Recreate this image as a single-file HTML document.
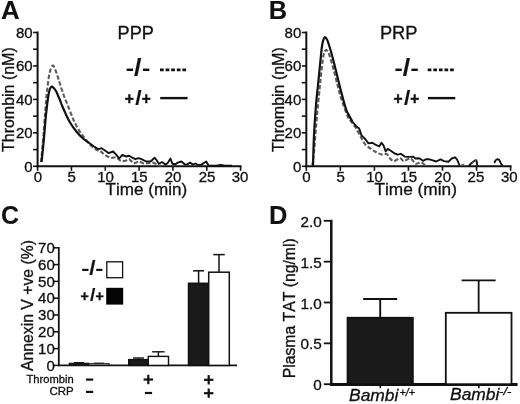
<!DOCTYPE html>
<html><head><meta charset="utf-8"><title>Figure</title>
<style>
html,body{margin:0;padding:0;background:#fff;}
body{width:520px;height:404px;overflow:hidden;}
svg{display:block;font-kerning:none;font-family:"Liberation Sans",sans-serif;fill:#111;}
text{stroke:#111;stroke-width:.32px;}
text[font-weight=bold]{stroke-width:.1px;}
</style></head><body>
<svg width="520" height="404" viewBox="0 0 520 404">
<rect width="520" height="404" fill="#fff"/>
<line x1="37.6" y1="31.5" x2="37.6" y2="167.3" stroke="#111" stroke-width="2"/>
<line x1="36.6" y1="166.3" x2="241.6" y2="166.3" stroke="#111" stroke-width="2"/>
<line x1="33.1" y1="166.3" x2="37.6" y2="166.3" stroke="#111" stroke-width="1.6"/>
<text x="32.6" y="171.6" font-size="15" text-anchor="end">0</text>
<line x1="33.1" y1="149.57500000000002" x2="37.6" y2="149.57500000000002" stroke="#111" stroke-width="1.6"/>
<line x1="33.1" y1="132.85000000000002" x2="37.6" y2="132.85000000000002" stroke="#111" stroke-width="1.6"/>
<text x="32.6" y="138.2" font-size="15" text-anchor="end">20</text>
<line x1="33.1" y1="116.125" x2="37.6" y2="116.125" stroke="#111" stroke-width="1.6"/>
<line x1="33.1" y1="99.4" x2="37.6" y2="99.4" stroke="#111" stroke-width="1.6"/>
<text x="32.6" y="104.7" font-size="15" text-anchor="end">40</text>
<line x1="33.1" y1="82.67500000000001" x2="37.6" y2="82.67500000000001" stroke="#111" stroke-width="1.6"/>
<line x1="33.1" y1="65.95" x2="37.6" y2="65.95" stroke="#111" stroke-width="1.6"/>
<text x="32.6" y="71.2" font-size="15" text-anchor="end">60</text>
<line x1="33.1" y1="49.224999999999994" x2="37.6" y2="49.224999999999994" stroke="#111" stroke-width="1.6"/>
<line x1="33.1" y1="32.5" x2="37.6" y2="32.5" stroke="#111" stroke-width="1.6"/>
<text x="32.6" y="37.8" font-size="15" text-anchor="end">80</text>
<line x1="37.6" y1="166.3" x2="37.6" y2="170.8" stroke="#111" stroke-width="1.6"/>
<text x="37.8" y="182.0" font-size="15" text-anchor="middle">0</text>
<line x1="71.43333333333334" y1="166.3" x2="71.43333333333334" y2="170.8" stroke="#111" stroke-width="1.6"/>
<text x="71.6" y="182.0" font-size="15" text-anchor="middle">5</text>
<line x1="105.26666666666668" y1="166.3" x2="105.26666666666668" y2="170.8" stroke="#111" stroke-width="1.6"/>
<text x="105.5" y="182.0" font-size="15" text-anchor="middle">10</text>
<line x1="139.1" y1="166.3" x2="139.1" y2="170.8" stroke="#111" stroke-width="1.6"/>
<text x="139.3" y="182.0" font-size="15" text-anchor="middle">15</text>
<line x1="172.93333333333334" y1="166.3" x2="172.93333333333334" y2="170.8" stroke="#111" stroke-width="1.6"/>
<text x="173.1" y="182.0" font-size="15" text-anchor="middle">20</text>
<line x1="206.76666666666665" y1="166.3" x2="206.76666666666665" y2="170.8" stroke="#111" stroke-width="1.6"/>
<text x="207.0" y="182.0" font-size="15" text-anchor="middle">25</text>
<line x1="240.6" y1="166.3" x2="240.6" y2="170.8" stroke="#111" stroke-width="1.6"/>
<text x="240.0" y="182.0" font-size="15" text-anchor="middle">30</text>
<text x="0.95" y="19.40" font-size="24.90" font-weight="bold" textLength="18.73" lengthAdjust="spacingAndGlyphs">A</text>
<text x="14.10" y="151.96" font-size="15.98" transform="rotate(-90 14.10 151.96)">Thrombin (nM)</text>
<text x="105.62" y="195.40" font-size="17.09">Time (min)</text>
<text x="117.61" y="39.00" font-size="18.11">PPP</text>
<line x1="306.3" y1="31.5" x2="306.3" y2="167.3" stroke="#111" stroke-width="2"/>
<line x1="305.3" y1="166.3" x2="511.6" y2="166.3" stroke="#111" stroke-width="2"/>
<line x1="301.8" y1="166.3" x2="306.3" y2="166.3" stroke="#111" stroke-width="1.6"/>
<text x="301.3" y="171.6" font-size="15" text-anchor="end">0</text>
<line x1="301.8" y1="149.57500000000002" x2="306.3" y2="149.57500000000002" stroke="#111" stroke-width="1.6"/>
<line x1="301.8" y1="132.85000000000002" x2="306.3" y2="132.85000000000002" stroke="#111" stroke-width="1.6"/>
<text x="301.3" y="138.2" font-size="15" text-anchor="end">20</text>
<line x1="301.8" y1="116.125" x2="306.3" y2="116.125" stroke="#111" stroke-width="1.6"/>
<line x1="301.8" y1="99.4" x2="306.3" y2="99.4" stroke="#111" stroke-width="1.6"/>
<text x="301.3" y="104.7" font-size="15" text-anchor="end">40</text>
<line x1="301.8" y1="82.67500000000001" x2="306.3" y2="82.67500000000001" stroke="#111" stroke-width="1.6"/>
<line x1="301.8" y1="65.95" x2="306.3" y2="65.95" stroke="#111" stroke-width="1.6"/>
<text x="301.3" y="71.2" font-size="15" text-anchor="end">60</text>
<line x1="301.8" y1="49.224999999999994" x2="306.3" y2="49.224999999999994" stroke="#111" stroke-width="1.6"/>
<line x1="301.8" y1="32.5" x2="306.3" y2="32.5" stroke="#111" stroke-width="1.6"/>
<text x="301.3" y="37.8" font-size="15" text-anchor="end">80</text>
<line x1="306.3" y1="166.3" x2="306.3" y2="170.8" stroke="#111" stroke-width="1.6"/>
<text x="306.5" y="182.0" font-size="15" text-anchor="middle">0</text>
<line x1="340.35" y1="166.3" x2="340.35" y2="170.8" stroke="#111" stroke-width="1.6"/>
<text x="340.6" y="182.0" font-size="15" text-anchor="middle">5</text>
<line x1="374.40000000000003" y1="166.3" x2="374.40000000000003" y2="170.8" stroke="#111" stroke-width="1.6"/>
<text x="374.6" y="182.0" font-size="15" text-anchor="middle">10</text>
<line x1="408.45000000000005" y1="166.3" x2="408.45000000000005" y2="170.8" stroke="#111" stroke-width="1.6"/>
<text x="408.7" y="182.0" font-size="15" text-anchor="middle">15</text>
<line x1="442.5" y1="166.3" x2="442.5" y2="170.8" stroke="#111" stroke-width="1.6"/>
<text x="442.7" y="182.0" font-size="15" text-anchor="middle">20</text>
<line x1="476.55" y1="166.3" x2="476.55" y2="170.8" stroke="#111" stroke-width="1.6"/>
<text x="475.9" y="182.0" font-size="15" text-anchor="middle">25</text>
<line x1="510.6" y1="166.3" x2="510.6" y2="170.8" stroke="#111" stroke-width="1.6"/>
<text x="509.3" y="182.0" font-size="15" text-anchor="middle">30</text>
<text x="268.80" y="19.40" font-size="24.90" font-weight="bold" textLength="18.35" lengthAdjust="spacingAndGlyphs">B</text>
<text x="283.60" y="151.96" font-size="15.98" transform="rotate(-90 283.60 151.96)">Thrombin (nM)</text>
<text x="374.41" y="195.40" font-size="17.30">Time (min)</text>
<text x="379.90" y="39.00" font-size="18.27">PRP</text>
<text font-weight="bold"><tspan x="125.73" y="74.70" font-size="20.00" textLength="8.26" lengthAdjust="spacingAndGlyphs">-</tspan><tspan x="134.04" y="75.50" font-size="23.90" textLength="7.42" lengthAdjust="spacingAndGlyphs">/</tspan><tspan x="141.93" y="74.70" font-size="20.00" textLength="8.26" lengthAdjust="spacingAndGlyphs">-</tspan></text>
<text font-weight="bold"><tspan x="124.85" y="104.05" font-size="17.20" textLength="9.08" lengthAdjust="spacingAndGlyphs" stroke="#111" stroke-width="0.5">+</tspan><tspan x="135.38" y="104.70" font-size="19.70" textLength="6.35" lengthAdjust="spacingAndGlyphs">/</tspan><tspan x="141.66" y="104.05" font-size="17.20" textLength="8.97" lengthAdjust="spacingAndGlyphs" stroke="#111" stroke-width="0.5">+</tspan></text>
<line x1="160" y1="69.9" x2="186.4" y2="69.9" stroke="#111" stroke-width="2.6" stroke-dasharray="3.7 1.9"/>
<line x1="160.2" y1="98.1" x2="187.6" y2="98.1" stroke="#111" stroke-width="2.4"/>
<text font-weight="bold"><tspan x="394.43" y="74.70" font-size="20.00" textLength="8.26" lengthAdjust="spacingAndGlyphs">-</tspan><tspan x="402.74" y="75.50" font-size="23.90" textLength="7.42" lengthAdjust="spacingAndGlyphs">/</tspan><tspan x="410.63" y="74.70" font-size="20.00" textLength="8.26" lengthAdjust="spacingAndGlyphs">-</tspan></text>
<text font-weight="bold"><tspan x="393.55" y="104.05" font-size="17.20" textLength="9.08" lengthAdjust="spacingAndGlyphs" stroke="#111" stroke-width="0.5">+</tspan><tspan x="404.08" y="104.70" font-size="19.70" textLength="6.35" lengthAdjust="spacingAndGlyphs">/</tspan><tspan x="410.36" y="104.05" font-size="17.20" textLength="8.97" lengthAdjust="spacingAndGlyphs" stroke="#111" stroke-width="0.5">+</tspan></text>
<line x1="427.7" y1="69.9" x2="454.1" y2="69.9" stroke="#111" stroke-width="2.6" stroke-dasharray="3.7 1.9"/>
<line x1="427.9" y1="98.1" x2="455.29999999999995" y2="98.1" stroke="#111" stroke-width="2.4"/>
<path d="M41.0,162.0C41.4,158.0 42.5,146.3 43.2,138.0C43.9,129.7 44.6,119.7 45.2,112.0C45.8,104.3 46.2,98.5 46.9,92.0C47.6,85.5 48.6,77.4 49.6,73.0C50.6,68.6 51.7,66.3 52.6,65.6C53.5,64.9 54.2,67.3 55.0,69.0C55.8,70.7 56.7,73.5 57.5,76.0C58.3,78.5 58.9,80.7 60.0,84.0C61.1,87.3 62.5,91.9 64.0,96.0C65.5,100.1 67.3,104.3 69.0,108.5C70.7,112.7 72.2,117.1 74.0,121.0C75.8,124.9 78.2,129.1 80.0,132.0C81.8,134.9 83.3,136.4 85.0,138.5C86.7,140.6 88.1,142.7 90.0,144.6C91.9,146.5 94.4,148.5 96.2,149.7C98.0,150.8 99.3,150.6 100.8,151.5C102.3,152.4 103.6,154.4 105.4,155.4C107.2,156.4 109.7,157.4 111.5,157.7C113.3,158.0 114.7,156.9 116.2,157.4C117.8,157.9 119.3,160.2 120.8,160.8C122.3,161.4 124.0,161.1 125.4,160.8C126.8,160.5 127.8,158.8 129.2,159.2C130.6,159.6 132.1,162.7 133.8,163.1C135.5,163.5 137.5,161.4 139.2,161.5C140.9,161.6 142.2,163.2 143.8,163.5C145.4,163.8 146.9,163.2 148.5,163.1C150.1,162.9 151.6,162.3 153.1,162.6C154.6,162.9 156.4,164.5 157.7,165.0C159.0,165.5 160.3,165.6 160.8,165.7" fill="none" stroke="#5c5c5c" stroke-width="2.1" stroke-linejoin="round" stroke-dasharray="4.4 2"/>
<path d="M41.6,162.0C42.0,158.0 43.3,145.8 44.0,138.0C44.7,130.2 45.3,121.7 46.0,115.0C46.7,108.3 47.4,102.2 48.0,98.0C48.6,93.8 49.1,91.4 49.7,89.5C50.3,87.6 50.9,86.8 51.6,86.6C52.3,86.3 53.1,87.3 53.8,88.0C54.5,88.7 55.3,89.8 56.0,91.0C56.7,92.2 57.3,94.0 58.0,95.5C58.7,97.0 59.3,98.3 60.0,100.0C60.7,101.7 61.0,103.1 62.0,105.5C63.0,107.9 64.7,111.7 66.0,114.5C67.3,117.3 68.3,119.7 70.0,122.5C71.7,125.3 74.2,128.8 76.4,131.5C78.6,134.2 80.7,136.5 83.0,138.5C85.3,140.5 88.8,142.7 90.0,143.5" fill="none" stroke="#111" stroke-width="2.2" stroke-linejoin="round"/>
<polyline points="90.0,143.5 94.6,146.9 98.5,149.2 101.5,148.2 105.4,150.8 108.5,153.1 113.1,151.5 116.2,154.6 119.2,158.5 122.3,154.9 126.2,156.5 129.2,155.8 132.3,157.7 135.4,159.2 138.5,158.2 141.5,159.2 146.2,161.5 150.8,161.2 154.6,157.7 156.5,160.0 158.9,163.8 162.0,162.0 165.4,164.6 167.7,163.0 170.5,158.5 172.3,163.8 175.4,164.2 177.7,162.6 181.5,161.5 184.6,164.2 186.9,164.6 190.0,162.6 193.0,164.6 195.4,163.5 198.5,165.0 201.5,164.6 203.8,163.0 206.2,161.5 208.5,165.4 216.0,165.6 220.8,165.0 225.0,165.6 232.0,165.7" fill="none" stroke="#111" stroke-width="1.9" stroke-linejoin="round" stroke-linecap="butt"/>
<path d="M312.3,166.0C312.6,163.3 313.6,156.8 314.2,150.0C314.8,143.2 315.5,132.8 316.2,125.0C316.9,117.2 317.5,109.8 318.2,103.0C318.9,96.2 319.5,90.0 320.1,84.0C320.7,78.0 321.3,71.8 321.9,67.0C322.5,62.2 323.0,57.8 323.6,55.0C324.2,52.2 325.1,50.5 325.8,50.0C326.5,49.5 327.3,50.8 328.0,52.0C328.7,53.2 329.0,53.8 330.0,57.0C331.0,60.2 332.7,66.0 334.0,71.0C335.3,76.0 336.7,82.0 338.0,87.0C339.3,92.0 340.3,96.0 342.0,101.0C343.7,106.0 346.3,113.3 348.0,117.0C349.7,120.7 350.9,121.1 352.3,123.0C353.7,124.9 354.8,126.2 356.2,128.5C357.6,130.8 359.3,134.3 360.8,137.0C362.3,139.7 363.6,142.6 365.4,144.6C367.2,146.6 369.7,147.9 371.5,149.2C373.3,150.5 374.4,151.4 376.2,152.3C378.0,153.2 380.5,154.3 382.3,154.6C384.1,154.9 385.6,153.5 386.9,154.2C388.2,154.8 388.9,157.3 390.0,158.5C391.1,159.7 392.5,161.1 393.8,161.2C395.1,161.3 396.5,159.6 397.7,159.2C398.9,158.8 399.8,158.2 400.8,158.5C401.8,158.8 402.7,161.1 403.8,161.2C404.9,161.3 406.5,159.6 407.7,159.2C408.9,158.8 409.8,158.1 410.8,158.5C411.8,158.9 412.9,160.9 413.8,161.8C414.7,162.7 415.0,163.7 416.2,163.8C417.4,163.9 419.4,162.2 420.8,162.3C422.2,162.4 423.6,164.1 424.6,164.6C425.6,165.1 426.6,165.1 427.0,165.2" fill="none" stroke="#5c5c5c" stroke-width="2.1" stroke-linejoin="round" stroke-dasharray="4.4 2"/>
<path d="M313.0,166.0C313.2,160.8 313.5,145.2 314.0,135.0C314.5,124.8 315.3,113.3 316.0,105.0C316.7,96.7 317.3,91.7 318.0,85.0C318.7,78.3 319.3,71.5 320.0,65.0C320.7,58.5 321.4,50.2 322.0,46.0C322.6,41.8 323.0,41.0 323.5,39.5C324.0,38.0 324.4,37.0 325.0,37.0C325.6,37.0 326.3,38.2 327.0,39.5C327.7,40.8 328.0,41.8 329.0,45.0C330.0,48.2 331.7,54.0 333.0,59.0C334.3,64.0 335.7,69.8 337.0,75.0C338.3,80.2 339.2,84.3 340.7,90.0C342.2,95.7 344.6,104.8 346.0,109.0C347.4,113.2 347.9,113.4 349.0,115.5C350.1,117.6 351.8,120.5 352.3,121.5" fill="none" stroke="#111" stroke-width="2.2" stroke-linejoin="round"/>
<polyline points="352.3,121.5 356.2,126.2 359.2,128.5 361.5,135.4 365.4,139.2 368.5,143.4 372.3,142.8 375.4,144.6 379.2,146.5 381.5,142.8 383.5,145.4 385.7,151.5 387.7,148.9 390.8,150.8 394.6,153.5 397.7,154.6 400.8,153.8 404.6,156.6 408.5,156.9 413.1,156.6 415.4,158.5 419.2,158.2 423.1,160.8 426.2,159.2 428.5,159.1 432.8,160.3 436.2,161.5 440.6,159.4 444.0,161.1 448.4,161.7 451.8,158.5 454.8,157.3 457.0,159.4 459.6,165.5" fill="none" stroke="#111" stroke-width="1.9" stroke-linejoin="round" stroke-linecap="butt"/>
<path d="M469.1,165.6C469.5,165.2 470.7,163.8 471.7,162.9C472.7,162.0 474.4,160.6 475.2,160.3C476.0,160.0 476.3,160.2 476.6,161.1C476.9,162.0 477.1,164.8 477.2,165.6" fill="none" stroke="#111" stroke-width="1.9" stroke-linejoin="round"/>
<path d="M494.2,162.9C494.6,162.4 495.5,160.3 496.3,159.8C497.1,159.3 498.2,159.2 499.0,159.8C499.8,160.5 500.5,162.7 501.1,163.7C501.7,164.7 502.3,165.3 502.5,165.6" fill="none" stroke="#111" stroke-width="1.9" stroke-linejoin="round"/>
<polyline points="472.0,163.5 476.3,159.5" fill="none" stroke="#5c5c5c" stroke-width="1.4" stroke-linejoin="round" stroke-linecap="butt" stroke-dasharray="2.5 1.5"/>
<polyline points="461.5,165.0 464.0,164.3" fill="none" stroke="#5c5c5c" stroke-width="1.4" stroke-linejoin="round" stroke-linecap="butt"/>
<text x="0.98" y="223.70" font-size="24.93" font-weight="bold">C</text>
<line x1="58.8" y1="247.0" x2="58.8" y2="366.2" stroke="#111" stroke-width="1.8"/>
<line x1="58.0" y1="365.4" x2="237" y2="365.4" stroke="#111" stroke-width="1.8"/>
<line x1="54.0" y1="365.4" x2="58.8" y2="365.4" stroke="#111" stroke-width="1.5"/>
<text x="54.8" y="370.6" font-size="15" text-anchor="end">0</text>
<line x1="54.0" y1="348.59999999999997" x2="58.8" y2="348.59999999999997" stroke="#111" stroke-width="1.5"/>
<text x="54.8" y="353.8" font-size="15" text-anchor="end">10</text>
<line x1="54.0" y1="331.8" x2="58.8" y2="331.8" stroke="#111" stroke-width="1.5"/>
<text x="54.8" y="337.0" font-size="15" text-anchor="end">20</text>
<line x1="54.0" y1="315.0" x2="58.8" y2="315.0" stroke="#111" stroke-width="1.5"/>
<text x="54.8" y="320.2" font-size="15" text-anchor="end">30</text>
<line x1="54.0" y1="298.2" x2="58.8" y2="298.2" stroke="#111" stroke-width="1.5"/>
<text x="54.8" y="303.4" font-size="15" text-anchor="end">40</text>
<line x1="54.0" y1="281.4" x2="58.8" y2="281.4" stroke="#111" stroke-width="1.5"/>
<text x="54.8" y="286.6" font-size="15" text-anchor="end">50</text>
<line x1="54.0" y1="264.6" x2="58.8" y2="264.6" stroke="#111" stroke-width="1.5"/>
<text x="54.8" y="269.8" font-size="15" text-anchor="end">60</text>
<line x1="54.0" y1="247.8" x2="58.8" y2="247.8" stroke="#111" stroke-width="1.5"/>
<text x="54.8" y="253.0" font-size="15" text-anchor="end">70</text>
<text x="33.10" y="371.03" font-size="15.77" transform="rotate(-90 33.10 371.03)">Annexin V +ve (%)</text>
<line x1="79.0" y1="362.6" x2="79.0" y2="363.3" stroke="#111" stroke-width="1.2"/>
<line x1="74.0" y1="362.6" x2="84.0" y2="362.6" stroke="#111" stroke-width="1.2"/>
<rect x="69.3" y="363.3" width="19.4" height="2.1" fill="#1a1a1a" stroke="#111" stroke-width="1.2"/>
<line x1="98.85" y1="363.2" x2="98.85" y2="363.8" stroke="#111" stroke-width="1.2"/>
<line x1="93.85" y1="363.2" x2="103.85" y2="363.2" stroke="#111" stroke-width="1.2"/>
<rect x="88.7" y="363.8" width="20.3" height="1.6" fill="#fff" stroke="#111" stroke-width="1.2"/>
<line x1="138.5" y1="358" x2="138.5" y2="359.6" stroke="#111" stroke-width="1.4"/>
<line x1="133.0" y1="358" x2="144.0" y2="358" stroke="#111" stroke-width="1.4"/>
<rect x="128.7" y="359.6" width="19.6" height="5.8" fill="#1a1a1a" stroke="#111" stroke-width="1.4"/>
<line x1="158.4" y1="351.8" x2="158.4" y2="356.4" stroke="#111" stroke-width="1.4"/>
<line x1="152.15" y1="351.8" x2="164.65" y2="351.8" stroke="#111" stroke-width="1.4"/>
<rect x="148.3" y="356.4" width="20.2" height="9.0" fill="#fff" stroke="#111" stroke-width="1.4"/>
<line x1="198.6" y1="270.8" x2="198.6" y2="283.3" stroke="#111" stroke-width="1.5"/>
<line x1="193.1" y1="270.8" x2="204.1" y2="270.8" stroke="#111" stroke-width="1.5"/>
<rect x="188.5" y="283.3" width="20.2" height="82.1" fill="#1a1a1a" stroke="#111" stroke-width="1.5"/>
<line x1="219.0" y1="254.6" x2="219.0" y2="272.2" stroke="#111" stroke-width="1.5"/>
<line x1="213.25" y1="254.6" x2="224.75" y2="254.6" stroke="#111" stroke-width="1.5"/>
<rect x="208.7" y="272.2" width="20.6" height="93.2" fill="#fff" stroke="#111" stroke-width="1.5"/>
<text font-weight="bold"><tspan x="81.35" y="274.90" font-size="19.00" textLength="8.13" lengthAdjust="spacingAndGlyphs">-</tspan><tspan x="89.18" y="275.00" font-size="19.60" textLength="6.24" lengthAdjust="spacingAndGlyphs">/</tspan><tspan x="95.26" y="274.90" font-size="19.00" textLength="8.00" lengthAdjust="spacingAndGlyphs">-</tspan></text>
<text font-weight="bold"><tspan x="80.61" y="300.70" font-size="15.20" textLength="8.27" lengthAdjust="spacingAndGlyphs" stroke="#111" stroke-width="0.45">+</tspan><tspan x="90.11" y="301.15" font-size="17.50" textLength="5.38" lengthAdjust="spacingAndGlyphs">/</tspan><tspan x="95.51" y="300.70" font-size="15.20" textLength="8.27" lengthAdjust="spacingAndGlyphs" stroke="#111" stroke-width="0.45">+</tspan></text>
<rect x="106.8" y="261.8" width="15.8" height="15.9" fill="#fff" stroke="#111" stroke-width="1.3"/>
<rect x="106.2" y="287.8" width="17" height="16.8" fill="#050505"/>
<text x="26.55" y="382.80" font-size="11.17">Thrombin</text>
<text x="49.42" y="395.40" font-size="11.46">CRP</text>
<line x1="86.0" y1="379.6" x2="93.19999999999999" y2="379.6" stroke="#111" stroke-width="2.2"/>
<line x1="86.0" y1="391.9" x2="93.19999999999999" y2="391.9" stroke="#111" stroke-width="2.2"/>
<line x1="143.60000000000002" y1="379.5" x2="153.0" y2="379.5" stroke="#111" stroke-width="2.2"/>
<line x1="148.3" y1="374.8" x2="148.3" y2="384.2" stroke="#111" stroke-width="2.2"/>
<line x1="144.9" y1="393" x2="152.1" y2="393" stroke="#111" stroke-width="2.2"/>
<line x1="204.0" y1="379.8" x2="213.39999999999998" y2="379.8" stroke="#111" stroke-width="2.2"/>
<line x1="208.7" y1="375.1" x2="208.7" y2="384.5" stroke="#111" stroke-width="2.2"/>
<line x1="204.0" y1="393.2" x2="213.39999999999998" y2="393.2" stroke="#111" stroke-width="2.2"/>
<line x1="208.7" y1="388.5" x2="208.7" y2="397.9" stroke="#111" stroke-width="2.2"/>
<text x="269.00" y="223.50" font-size="25.44" font-weight="bold">D</text>
<line x1="331.3" y1="219.8" x2="331.3" y2="385.2" stroke="#111" stroke-width="2.5"/>
<line x1="330.1" y1="384.4" x2="517.6" y2="384.4" stroke="#111" stroke-width="3.0"/>
<line x1="323.8" y1="384.2" x2="331.3" y2="384.2" stroke="#111" stroke-width="1.8"/>
<text x="321.7" y="390.2" font-size="15.3" text-anchor="end">0</text>
<line x1="323.8" y1="343.35" x2="331.3" y2="343.35" stroke="#111" stroke-width="1.8"/>
<text x="321.7" y="349.4" font-size="15.3" text-anchor="end">0.5</text>
<line x1="323.8" y1="302.5" x2="331.3" y2="302.5" stroke="#111" stroke-width="1.8"/>
<text x="321.7" y="308.5" font-size="15.3" text-anchor="end">1.0</text>
<line x1="323.8" y1="261.65" x2="331.3" y2="261.65" stroke="#111" stroke-width="1.8"/>
<text x="321.7" y="267.6" font-size="15.3" text-anchor="end">1.5</text>
<line x1="323.8" y1="220.8" x2="331.3" y2="220.8" stroke="#111" stroke-width="1.8"/>
<text x="321.7" y="226.8" font-size="15.3" text-anchor="end">2.0</text>
<text x="295.30" y="378.29" font-size="15.76" transform="rotate(-90 295.30 378.29)">Plasma TAT (ng/ml)</text>
<line x1="380.20000000000005" y1="299" x2="380.20000000000005" y2="317.8" stroke="#111" stroke-width="1.9"/>
<line x1="363.20000000000005" y1="299" x2="397.20000000000005" y2="299" stroke="#111" stroke-width="1.9"/>
<rect x="347.6" y="317.8" width="65.2" height="66.4" fill="#1a1a1a" stroke="#111" stroke-width="1.9"/>
<line x1="478.65" y1="280.4" x2="478.65" y2="312.8" stroke="#111" stroke-width="1.8"/>
<line x1="461.65" y1="280.4" x2="495.65" y2="280.4" stroke="#111" stroke-width="1.8"/>
<rect x="445.8" y="312.8" width="65.7" height="71.4" fill="#fff" stroke="#111" stroke-width="1.8"/>
<line x1="380.3" y1="384.2" x2="380.3" y2="388.2" stroke="#111" stroke-width="1.6"/>
<line x1="478.8" y1="384.2" x2="478.8" y2="388.2" stroke="#111" stroke-width="1.6"/>
<text x="349.06" y="400.60" font-size="17.41" font-style="italic">Bambi</text>
<text x="399.52" y="395.80" font-size="10.69" font-style="italic">+/+</text>
<text x="450.06" y="400.20" font-size="17.41" font-style="italic">Bambi</text>
<text x="499.14" y="395.40" font-size="10.80" font-style="italic" textLength="12.15" lengthAdjust="spacingAndGlyphs">-/-</text>
</svg>
</body></html>
